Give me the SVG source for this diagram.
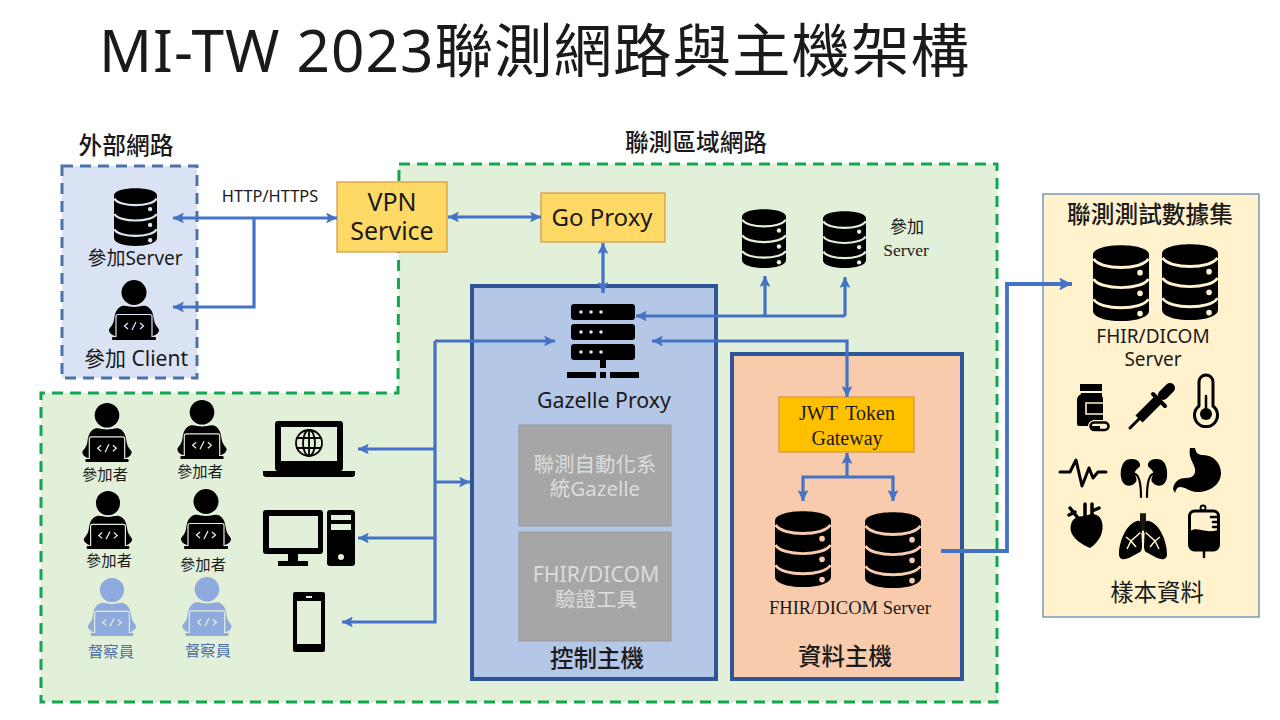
<svg xmlns="http://www.w3.org/2000/svg" width="1280" height="720" viewBox="0 0 1280 720">
<style>
text{font-family:"Noto Sans","Noto Sans CJK TC",sans-serif;fill:#1a1a1a;text-anchor:middle}
.serif{font-family:"Liberation Serif","Noto Sans CJK TC",serif}
.lbl{font-size:15.3px}
.sup{font-size:15.3px;fill:#4a6fa5}
.gray{fill:#dcdcdc;font-size:20.5px}
.line{fill:none;stroke:#4472c4;stroke-width:3.2}
.thick{stroke-width:3.8}
.one{marker-end:url(#arr)}
.two{marker-start:url(#arr);marker-end:url(#arr)}
.box{stroke-width:1.2}
.host{stroke:#2f5597;stroke-width:4}
.k{fill:#000}
.kl{fill:none;stroke:#000;stroke-linecap:round;stroke-linejoin:round}
.g{fill:#a6a6a6;stroke:#999;stroke-width:1}
.bgb{color:#dae3f3}.bgg{color:#e2f0d9}.bgo{color:#f8cbad}.bgy{color:#fff2cc}
.sv{fill:#8faadc;color:#e2f0d9}
</style>
<defs>
<marker id="arr" viewBox="0 0 10 10" refX="10" refY="5" markerWidth="3.4" markerHeight="3.4" orient="auto-start-reverse"><path d="M0 0L10 5L0 10L2 5Z" fill="#4472c4"/></marker>
<symbol id="db" viewBox="0 0 100 132" preserveAspectRatio="none">
<path d="M0 17C0 -5 100 -5 100 17V114C100 138 0 138 0 114Z"/>
<g fill="none" stroke="currentColor" stroke-width="5"><path d="M1 24C12 44 88 44 99 24"/><path d="M1 59C12 79 88 79 99 59"/><path d="M1 94C12 114 88 114 99 94"/></g>
<g fill="currentColor"><circle cx="84" cy="48" r="5"/><circle cx="84" cy="84" r="5"/><circle cx="84" cy="119" r="5"/></g>
</symbol>
<symbol id="person" viewBox="0 0 50 60">
<circle cx="25" cy="12.5" r="12.5"/>
<path d="M25 27C20 27 17 25 13 26C8 28 6 32 5 40C4 46 0 48 0 50C0 53 3 55 6 56H44C47 55 50 53 50 50C50 48 46 46 45 40C44 32 42 28 37 26C33 25 30 27 25 27Z"/>
<rect x="7" y="34.500" width="36" height="25" rx="2" stroke="currentColor" stroke-width="1.2"/>
<rect x="3" y="57" width="44" height="3" rx="1"/>
<path d="M19 43L15.500 46L19 49M31 43L34.500 46L31 49M27 42L23 50" fill="none" stroke="currentColor" stroke-width="1.300"/>
</symbol>
</defs>
<rect width="1280" height="720" fill="#fff"/>
<g id="title"><text x="534" y="72" font-size="58.500" textLength="870" lengthAdjust="spacing">MI-TW 2023聯測網路與主機架構</text></g>
<g id="zone-internal"><path d="M399 164H997V702H41V393H398Z" fill="#e2f0d9" stroke="#14a550" stroke-width="3" stroke-dasharray="11 7"/>
<text x="696" y="151" font-size="23.700" font-weight="500">聯測區域網路</text></g>
<g id="zone-external"><rect x="62" y="166" width="135" height="212" fill="#dae3f3" stroke="#4a72ab" stroke-width="3" stroke-dasharray="11 7"/>
<text x="126" y="154" font-size="23.700" font-weight="500">外部網路</text></g>
<g id="external-server" class="bgb"><use href="#db" x="114" y="188" width="43" height="58"/><text x="135" y="265" font-size="19">參加Server</text></g>
<g id="external-client" class="bgb"><use href="#person" x="109" y="280" width="50" height="60"/><text x="136" y="366" font-size="21">參加 Client</text></g>
<g id="vpn"><rect class="box" x="337" y="182" width="110" height="70" fill="#ffd966" stroke="#d6963c"/><text x="392" y="211" font-size="25">VPN</text><text x="392" y="240" font-size="25">Service</text></g>
<g id="go-proxy"><rect class="box" x="541" y="193" width="124" height="49" fill="#ffd966" stroke="#d6963c"/><text x="602" y="226" font-size="24">Go Proxy</text></g>
<g id="control-host"><rect class="host" x="472" y="286" width="244" height="393" fill="#b4c7e7"/><text x="597" y="667" font-size="23.500" font-weight="500">控制主機</text></g>
<g id="gazelle-proxy"><rect class="k" x="571" y="304" width="64" height="16" rx="3"/><rect class="k" x="571" y="324" width="64" height="16" rx="3"/><rect class="k" x="571" y="344" width="64" height="16" rx="3"/>
<g fill="#dae3f3"><circle cx="581" cy="312" r="1.800"/><circle cx="591" cy="312" r="1.800"/><circle cx="601" cy="312" r="1.800"/><circle cx="581" cy="332" r="1.800"/><circle cx="591" cy="332" r="1.800"/><circle cx="601" cy="332" r="1.800"/><circle cx="581" cy="352" r="1.800"/><circle cx="591" cy="352" r="1.800"/><circle cx="601" cy="352" r="1.800"/></g>
<path class="k" d="M600 360h6v8h-6zM567 372h29v6h-29zM600 372h6v6h-6zM610 372h29v6h-29z"/>
<text x="604" y="408" font-size="21.300">Gazelle Proxy</text></g>
<g id="gazelle"><rect class="g" x="519" y="425" width="152" height="101"/><text class="gray" x="595" y="472">聯測自動化系</text><text class="gray" x="595" y="496">統Gazelle</text></g>
<g id="validator"><rect class="g" x="519" y="532" width="152" height="109"/><text class="gray" x="596" y="582" style="font-size:21.200px">FHIR/DICOM</text><text class="gray" x="596" y="607">驗證工具</text></g>
<g id="data-host"><rect class="host" x="732" y="354" width="230" height="325" fill="#f8cbad"/><text x="845" y="665" font-size="23.500" font-weight="500">資料主機</text></g>
<g id="jwt"><rect class="box" x="779" y="397" width="135" height="55" fill="#ffc000" stroke="#d6963c"/><text class="serif" x="847" y="420" font-size="20" word-spacing="3">JWT Token</text><text class="serif" x="847" y="445" font-size="20">Gateway</text></g>
<g id="data-servers" class="bgo"><use href="#db" x="775" y="511" width="56" height="76"/><use href="#db" x="865" y="512" width="56" height="76"/><text class="serif" x="850" y="614" font-size="18.500">FHIR/DICOM Server</text></g>
<g id="join-servers" class="bgg"><use href="#db" x="742" y="209" width="44" height="59"/><use href="#db" x="823" y="211" width="43" height="57"/><text x="907" y="233" font-size="17">參加</text><text class="serif" x="906" y="256" font-size="17.500">Server</text></g>
<g id="p1" class="bgg"><use href="#person" x="82" y="403" width="50" height="59"/><text class="lbl" x="105" y="480">參加者</text></g>
<g id="p2" class="bgg"><use href="#person" x="177" y="400" width="50" height="59"/><text class="lbl" x="200" y="477">參加者</text></g>
<g id="p3" class="bgg"><use href="#person" x="83" y="491" width="50" height="58"/><text class="lbl" x="109" y="566">參加者</text></g>
<g id="p4" class="bgg"><use href="#person" x="181" y="489" width="50" height="60"/><text class="lbl" x="203" y="570">參加者</text></g>
<g id="s1"><use class="sv" href="#person" x="87" y="578" width="50" height="58"/><text class="sup" x="111" y="657">督察員</text></g>
<g id="s2"><use class="sv" href="#person" x="182" y="577" width="50" height="59"/><text class="sup" x="208" y="656">督察員</text></g>
<g id="laptop"><rect class="k" x="275" y="421" width="68" height="50" rx="3"/><rect x="281" y="427" width="56" height="34" fill="#e2f0d9"/><path class="k" d="M263 471H355V474Q355 477 352 477H266Q263 477 263 474Z"/>
<g class="kl" stroke-width="1.800"><circle cx="309" cy="443" r="13"/><ellipse cx="309" cy="443" rx="6" ry="13"/><path d="M309 430V456M297 438H321M297 448H321"/></g></g>
<g id="desktop"><rect class="k" x="263" y="510" width="60" height="44" rx="3"/><rect x="269" y="516" width="49" height="32" fill="#e2f0d9"/><path class="k" d="M288 554H298V561H308V566H278V561H288Z"/><rect class="k" x="327" y="510" width="28" height="56" rx="3"/><rect x="331" y="515" width="20" height="5" fill="#e2f0d9"/><rect x="331" y="524" width="20" height="6" fill="#e2f0d9"/><circle cx="341" cy="557" r="3" fill="#e2f0d9"/></g>
<g id="phone"><rect class="k" x="293" y="592" width="32" height="60" rx="2"/><rect x="297" y="601" width="24" height="43" fill="#e2f0d9"/><rect x="306" y="596" width="6" height="2" fill="#e2f0d9"/></g>
<g id="dataset"><rect x="1043" y="194" width="216" height="423" fill="#fff2cc" stroke="#5b7fb5" stroke-width="1.200"/>
<text x="1150" y="223" font-size="23.700" font-weight="500">聯測測試數據集</text>
<g class="bgy"><use href="#db" x="1093" y="245" width="56" height="76"/><use href="#db" x="1162" y="244" width="56" height="76"/></g>
<text x="1153" y="343" font-size="19">FHIR/DICOM</text><text x="1153" y="366" font-size="19">Server</text>
<text x="1157" y="601" font-size="23.400">樣本資料</text></g>
<g id="icon-bottle"><path class="k" d="M1080 384H1102V391H1080ZM1081 393H1102V396Q1103 397 1103 400V420H1093Q1088 422 1088 426H1079Q1077 426 1077 424V400Q1077 396 1081 394Z"/><path fill="none" stroke="#fff2cc" stroke-width="1.600" d="M1103 403H1086V414H1103"/><rect x="1090.500" y="422.500" width="18" height="7.500" rx="3.700" fill="#fff2cc" stroke="#000" stroke-width="2.500"/><path class="k" d="M1090 426H1100V431H1094Q1090 431 1090 426Z"/></g>
<g id="icon-dropper" class="kl"><path d="M1130 428L1140 418" stroke-width="3"/><path d="M1139 419L1158 400" stroke-width="10" stroke-linecap="butt"/><path d="M1153 394L1165 406" stroke-width="4"/><path d="M1163 395L1170 388" stroke-width="10"/></g>
<g id="icon-thermo"><path class="kl" stroke-width="3" d="M1199 406V382a7 7 0 0 1 14 0V406a11.500 11.500 0 1 1-14 0Z"/><circle class="k" cx="1206" cy="414" r="6"/><path class="kl" stroke-width="2.500" d="M1206 396V412"/></g>
<g id="icon-pulse"><path class="kl" stroke-width="3" d="M1060 472H1070L1076 460L1082 486L1089 468L1093 478L1098 472H1106"/></g>
<g id="icon-kidneys"><path id="kid" class="k" d="M1131 459C1122 459 1120 470 1121 477C1122 486 1130 488 1135 483C1139 479 1134 476 1135 472C1136 468 1141 468 1140 464C1139 460 1135 459 1131 459Z"/><use href="#kid" transform="translate(2288 0) scale(-1 1)"/><path class="kl" stroke-width="2.200" d="M1135 474Q1141 476 1141 497M1153 474Q1147 476 1147 497"/></g>
<g id="icon-stomach"><path class="k" d="M1190 448L1195 448C1196 453 1198 455 1203 455C1214 455 1221 464 1221 473C1221 486 1207 493 1196 492C1188 491 1186 487 1180 487C1177 487 1176 490 1175 493L1173 489C1174 481 1180 478 1186 478C1192 478 1196 475 1195 469C1194 463 1188 458 1190 448Z"/></g>
<g id="icon-heart"><path class="k" d="M1073 520C1067 530 1072 540 1090 548C1101 541 1104 530 1102 522C1100 514 1092 513 1088 515C1082 517 1078 515 1073 520Z"/><path class="kl" stroke-width="3.500" d="M1085 517L1085 504M1092 517V504M1092 511L1099 508M1070 508L1078 518M1069 515L1075 512"/></g>
<g id="icon-lungs"><path id="lung" class="k" d="M1137 521C1126 524 1119 542 1119 554C1119 560 1124 560 1129 558L1140 552C1142 551 1142 547 1142 545L1141 525C1141 521 1139 520 1137 521Z"/><use href="#lung" transform="translate(2286 0) scale(-1 1)"/><path fill="none" stroke="#fff2cc" stroke-width="1.500" d="M1141 532L1131 541L1127 549M1131 541L1136 547M1131 541L1126 537M1145 532L1155 541L1159 549M1155 541L1150 547M1155 541L1160 537"/><path class="kl" stroke-width="1.800" d="M1141 514V532M1145 514V532M1143 514V530"/></g>
<g id="icon-iv"><rect x="1189.500" y="511" width="29" height="39" rx="5" fill="#fff2cc" stroke="#000" stroke-width="3"/><path class="k" d="M1190 531C1198 526 1204 534 1218 530V545Q1218 550 1213 550H1195Q1190 550 1190 545Z"/><circle cx="1203" cy="508" r="2.500" fill="none" stroke="#000" stroke-width="1.800"/><path class="kl" stroke-width="2.500" d="M1204 550V557M1211 517H1218M1213 522H1218M1213 527H1218"/></g>
<g id="connectors">
<path class="line two" d="M173 218H337"/>
<path class="line one" d="M254 218V307H173"/>
<path class="line two" d="M448 217H541"/>
<path class="line two" d="M603 243V293"/>
<path class="line one" d="M845 316H636"/>
<path class="line one" d="M765 316V276"/>
<path class="line one" d="M845 316V277"/>
<path class="line two" d="M652 341H847V397"/>
<path class="line one" d="M435 341H555"/>
<path class="line one" d="M435 341V622H342"/>
<path class="line one" d="M435 449H358"/>
<path class="line one" d="M435 538H358"/>
<path class="line one" d="M435 482H470"/>
<path class="line one" d="M847 477V453"/>
<path class="line one" d="M847 477H803V501"/>
<path class="line one" d="M847 477H893V501"/>
<path class="line thick one" d="M941 551H1007V284H1072"/>
</g>
<g id="connector-labels"><text x="270" y="202" font-size="16.400">HTTP/HTTPS</text></g>
</svg>
